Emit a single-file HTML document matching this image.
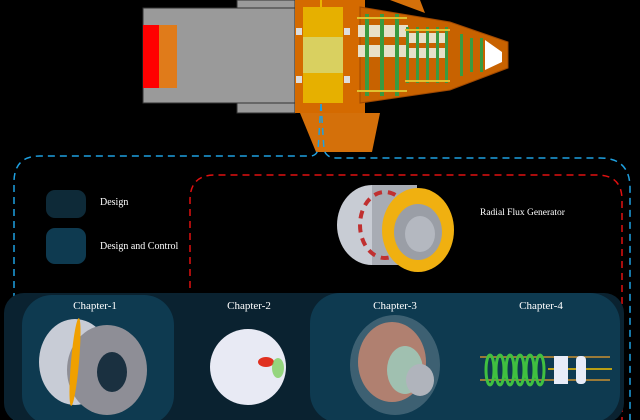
<!DOCTYPE html>
<html><head><meta charset="utf-8"><style>
html,body{margin:0;padding:0;background:#000;}
svg{display:block}
text{font-family:"Liberation Serif",serif;fill:#fff;}
</style></head><body>
<svg width="640" height="420" viewBox="0 0 640 420" xmlns="http://www.w3.org/2000/svg">
<rect width="640" height="420" fill="#000"/>
<rect x="237" y="0" width="58" height="113" fill="#9a9a9a" stroke="#333"/>
<rect x="143" y="8" width="152" height="95" fill="#9a9a9a" stroke="#333"/>
<rect x="143" y="25" width="16" height="63" fill="#ff0000"/>
<rect x="159" y="25" width="18" height="63" fill="#e07b1a"/>
<polygon points="300,113 380,113 372,152 316,152" fill="#d4700a"/>
<polygon points="390,0 420,0 425,13" fill="#d4700a"/>
<rect x="295" y="0" width="70" height="113" fill="#d46a00"/>
<polygon points="360,7 450,22 508,42 508,68 450,90 360,103" fill="#c86200" stroke="#a04800"/>
<polygon points="485,40 502,52 502,62 485,70" fill="#fff"/>
<rect x="303" y="7" width="40" height="96" fill="#e6b000"/>
<rect x="303" y="37" width="40" height="36" fill="#d9d060"/>
<rect x="296" y="28" width="6" height="7" fill="#ddd"/><rect x="296" y="76" width="6" height="7" fill="#ddd"/>
<rect x="344" y="28" width="6" height="7" fill="#ddd"/><rect x="344" y="76" width="6" height="7" fill="#ddd"/>
<g fill="#e8e0c8"><rect x="358" y="25" width="50" height="12"/><rect x="358" y="45" width="50" height="12"/><rect x="408" y="33" width="40" height="10"/><rect x="408" y="48" width="40" height="10"/></g>
<g fill="#3a9a40">
<rect x="365" y="14" width="4" height="82"/><rect x="380" y="14" width="4" height="82"/><rect x="395" y="14" width="4" height="82"/>
<rect x="406" y="27" width="3" height="56"/><rect x="416" y="27" width="3" height="56"/><rect x="426" y="27" width="3" height="56"/><rect x="436" y="27" width="3" height="56"/><rect x="445" y="27" width="3" height="56"/>
<rect x="460" y="34" width="3" height="42"/><rect x="470" y="38" width="3" height="34"/><rect x="480" y="38" width="3" height="34"/>
</g>
<g fill="#e0c030"><rect x="357" y="17" width="50" height="2"/><rect x="357" y="90" width="50" height="2"/><rect x="405" y="29" width="45" height="2"/><rect x="405" y="80" width="45" height="2"/></g>
<line x1="321" y1="0" x2="321" y2="7" stroke="#ff0"/>
<path d="M321,104 L318,150 Q316,156 310,156 L40,156 Q14,156 14,182 L14,420" fill="none" stroke="#1ea0e0" stroke-width="1.5" stroke-dasharray="7,5"/>
<path d="M321,104 L324,150 Q327,158 336,158 L600,158 Q630,158 630,188 L630,420" fill="none" stroke="#1ea0e0" stroke-width="1.5" stroke-dasharray="7,5"/>
<path d="M190,420 L190,200 Q190,175 215,175 L597,175 Q622,175 622,200 L622,420" fill="none" stroke="#e01010" stroke-width="1.5" stroke-dasharray="7,5"/>
<rect x="46" y="190" width="40" height="28" rx="9" fill="#0e2a38"/>
<rect x="46" y="228" width="40" height="36" rx="9" fill="#0e3a50"/>
<text x="100" y="205" font-size="10">Design</text>
<text x="100" y="249" font-size="10">Design and Control</text>
<text x="480" y="215" font-size="9.5">Radial Flux Generator</text>
<ellipse cx="372" cy="225" rx="35" ry="40" fill="#c8ccd4"/>
<rect x="372" y="185" width="45" height="80" fill="#a8acb4"/>
<ellipse cx="385" cy="225" rx="25" ry="33" fill="none" stroke="#c03030" stroke-width="4" stroke-dasharray="8,6"/>
<ellipse cx="418" cy="230" rx="36" ry="42" fill="#f0b010"/>
<ellipse cx="418" cy="232" rx="24" ry="28" fill="#9a9ea6"/>
<ellipse cx="420" cy="234" rx="15" ry="18" fill="#b4b8c0"/>
<rect x="4" y="293" width="620" height="130" rx="20" fill="#0a2230"/>
<rect x="22" y="295" width="152" height="130" rx="30" fill="#0e3a50"/>
<rect x="310" y="293" width="310" height="130" rx="30" fill="#0e3a50"/>
<text x="95" y="309" font-size="11" text-anchor="middle">Chapter-1</text>
<text x="249" y="309" font-size="11" text-anchor="middle">Chapter-2</text>
<text x="395" y="309" font-size="11" text-anchor="middle">Chapter-3</text>
<text x="541" y="309" font-size="11" text-anchor="middle">Chapter-4</text>
<ellipse cx="75" cy="362" rx="36" ry="43" fill="#c8ccd6"/>
<ellipse cx="107" cy="370" rx="40" ry="45" fill="#8e8e96"/>
<ellipse cx="75" cy="362" rx="4" ry="44" fill="#f0a000" transform="rotate(5 75 362)"/>
<ellipse cx="112" cy="372" rx="15" ry="20" fill="#1a3040"/>
<ellipse cx="248" cy="367" rx="38" ry="38" fill="#e8eaf4"/>
<ellipse cx="266" cy="362" rx="8" ry="5" fill="#e03020"/>
<ellipse cx="278" cy="368" rx="6" ry="10" fill="#80d060" opacity="0.8"/>
<ellipse cx="395" cy="365" rx="45" ry="50" fill="#4a6a7a" opacity="0.8"/>
<ellipse cx="392" cy="362" rx="34" ry="40" fill="#b08070"/>
<ellipse cx="405" cy="370" rx="18" ry="24" fill="#a0c0b0"/>
<ellipse cx="420" cy="380" rx="14" ry="16" fill="#b0b4bc"/>
<line x1="480" y1="357" x2="610" y2="357" stroke="#c89030" stroke-width="1.5"/>
<line x1="480" y1="380" x2="610" y2="380" stroke="#c89030" stroke-width="1.5"/>
<line x1="548" y1="369" x2="612" y2="369" stroke="#f0c000" stroke-width="1.5"/>
<g fill="none" stroke="#40c040" stroke-width="3">
<ellipse cx="490" cy="370" rx="4" ry="15"/><ellipse cx="500" cy="370" rx="4" ry="15"/><ellipse cx="510" cy="370" rx="4" ry="15"/><ellipse cx="520" cy="370" rx="4" ry="15"/><ellipse cx="530" cy="370" rx="4" ry="15"/><ellipse cx="540" cy="370" rx="4" ry="15"/>
</g>
<rect x="554" y="356" width="14" height="28" fill="#e8ecf8"/>
<rect x="576" y="356" width="10" height="28" rx="4" fill="#e8ecf8"/>
</svg>
</body></html>
